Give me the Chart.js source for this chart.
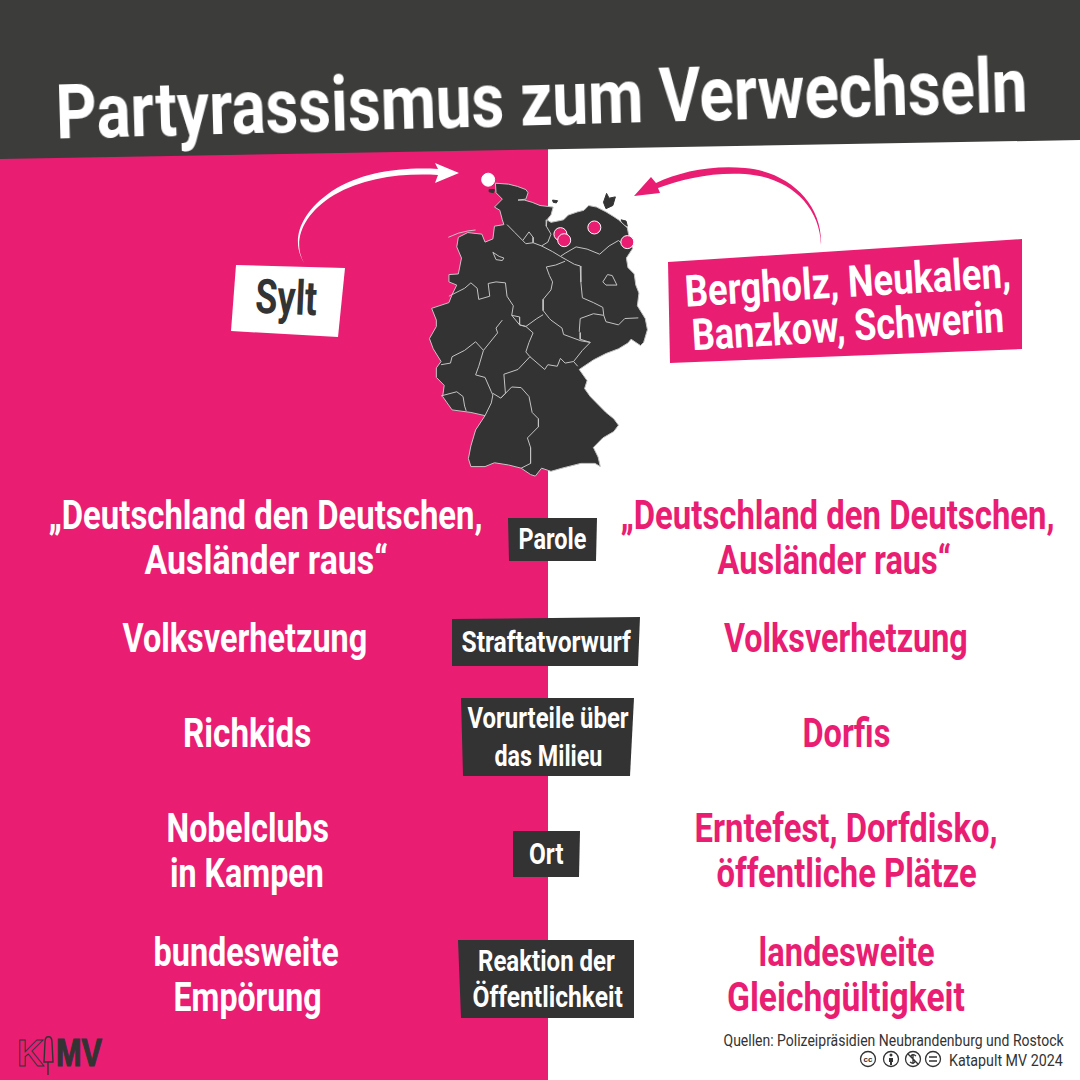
<!DOCTYPE html>
<html lang="de">
<head>
<meta charset="utf-8">
<title>Partyrassismus zum Verwechseln</title>
<script src="https://cdn.jsdelivr.net/npm/chart.js@4"></script>
<style>
  html, body { margin: 0; padding: 0; background: #fff; }
  #page { position: relative; width: 1080px; height: 1080px; overflow: hidden; background: #fff;
          font-family: "Liberation Sans Narrow", "Roboto", sans-serif; }
  #leftHalf { position: absolute; left: 0; top: 0; width: 548px; height: 1080px; background: #e91e73; }
  #mapWrap { position: absolute; left: 410px; top: 155px; width: 260px; height: 335px; }
  .poly { position: absolute; left: 0; top: 0; width: 1080px; height: 1080px; }
  .t { position: absolute; white-space: nowrap; font-weight: 700; line-height: 1; transform-origin: center center; }
</style>
</head>
<body>
<div id="page">
  <div id="leftHalf"></div>
  <svg class="poly" id="shapes" viewBox="0 0 1080 1080">
    <polygon points="0,0 1080,0 1080,140 0,159" fill="#3c3c3b"/>
    <polygon points="236,265 345,268 338,337 231,331" fill="#fff"/>
    <polygon points="668,262 1022,239 1022,349 670,363" fill="#e91e73"/>
    <polygon points="508,518 597,518 596,561 509,561" fill="#333"/>
    <polygon points="452,619 640,617 638,666 452,666" fill="#333"/>
    <polygon points="461,698 634,698 630,776 463,776" fill="#333"/>
    <polygon points="513,831 580,831 579,877 513,877" fill="#333"/>
    <polygon points="458,940 634,940 634,1018 461,1018" fill="#333"/>
    <path d="M304,263 C292,243 296,216 332,191 C362,172 400,167 438,169 L435,163 L459,173 L435,183 L438,175 C400,173 364,178 334,195 C300,216 293,243 304,263 Z" fill="#fff"/>
    <path d="M821,245 C823,205 790,172 745,168 C710,165 680,172 656,183 L651,177 L634,196 L660,193 L658,188 C682,179 712,172 745,174 C788,177 820,205 821,245 Z" fill="#e91e73"/>
    <!-- logo -->
    <text x="17" y="1066" font-size="37" font-weight="700" fill="none" stroke="#333" stroke-width="1" textLength="27" lengthAdjust="spacingAndGlyphs" font-family="Liberation Sans">K</text>
    <path d="M45,1042 C45,1035 52,1035 52,1042 L53,1062 L44,1062 Z M48,1062 V1075" fill="none" stroke="#333" stroke-width="1.4"/>
    <text x="56" y="1066" font-size="38" font-weight="700" fill="#333" stroke="#333" stroke-width="1.2" textLength="46" lengthAdjust="spacingAndGlyphs" font-family="Liberation Sans">MV</text>
    <!-- cc icons -->
    <g fill="none" stroke="#333" stroke-width="1.3">
      <circle cx="868" cy="1059" r="7.5"/><circle cx="891" cy="1059" r="7.5"/>
      <circle cx="913" cy="1059" r="7.5"/><circle cx="933" cy="1059" r="7.5"/>
      <path d="M908,1054 L918,1064 M913,1054 V1064 M916,1056 C912,1053 909,1056 913,1059 C917,1061 914,1065 910,1062"/>
      <path d="M929,1057 H937 M929,1061 H937"/>
    </g>
    <circle cx="891" cy="1055" r="1.5" fill="#333"/>
    <path d="M889,1058 H893 V1062 H892 V1065 H890 V1062 H889 Z" fill="#333"/>
    <text x="868" y="1062" font-size="8" font-weight="700" fill="#333" text-anchor="middle" font-family="Liberation Sans">cc</text>
  </svg>
  <div id="mapWrap"><canvas id="map" width="260" height="335"></canvas></div>
  <div id="labels"></div>
</div>

<script>
// Karte: alles in Karteneinheiten (1 Einheit = 1/3 Pixel), Ursprung links oben im Kartenfeld
const cities = ['Sylt', 'Schwerin', 'Banzkow', 'Neukalen', 'Bergholz'];
const cityX = [225, 455, 467, 563, 668];
const cityY = [54, 225, 244, 204, 250];
const cityColors = ['#ffffff', '#e91e73', '#e91e73', '#e91e73', '#e91e73'];

const coast = [[248,65],[290,68],[318,75],[345,85],[352,95],[345,115],[320,118],[340,118],[365,125],[390,135],[432,140],
  [425,165],[412,180],[425,188],[465,180],[480,165],[510,155],[530,150],[545,135],[570,140],[600,155],[625,170],[640,180],
  [668,205],[672,225],[685,270],[665,300],[670,330],[690,350],[695,385],[705,410],[700,450],[725,490],[732,525],[720,565],
  [710,575],[680,555],[670,567],[640,585],[600,600],[560,620],[530,640],[515,650],[540,685],[532,710],[550,735],[570,755],
  [600,785],[625,805],[640,825],[625,845],[590,865],[560,895],[575,925],[582,955],[565,945],[520,945],[460,960],[425,970],
  [395,960],[375,985],[360,980],[330,960],[290,950],[245,943],[215,955],[170,955],[162,930],[170,890],[185,840],[215,795],
  [170,785],[110,777],[80,735],[85,700],[60,675],[60,645],[75,625],[50,585],[38,553],[60,515],[60,495],[45,458],[100,440],
  [110,415],[125,385],[100,375],[100,352],[130,350],[140,300],[125,265],[130,235],[160,220],[205,225],[215,250],[240,240],
  [245,200],[275,195],[270,180],[262,150],[245,140],[270,115],[250,95],[248,65]];

// Inseln
const ruegen = [[592,125],[602,97],[610,112],[630,108],[622,135],[600,145],[592,125]];
const usedom = [[648,180],[664,184],[668,200],[654,192],[648,180]];
const fehmarn = [[430,118],[446,120],[442,127],[432,125],[430,118]];
const nordfriesland = [[228,85],[245,85],[242,95],[228,92],[228,85]];
const ostfriesland = [[98,235],[130,222],[160,215],[185,212]];

// Laendergrenzen
const shBorder = [[412,180],[410,200],[425,225],[415,250],[395,262],[368,252],[345,255],[335,245],[310,220],[285,195]];
const hamburg = [[335,245],[355,218],[368,235],[368,252]];
const bremen = [[240,282],[260,295],[275,300],[270,308],[250,305],[240,282]];
const berlin = [[590,375],[605,352],[620,355],[635,385],[600,385],[590,375]];
const mvBorder = [[395,262],[430,280],[455,295],[470,285],[505,265],[540,272],[580,288],[610,262],[640,245],[668,270]];
const bbWest = [[455,295],[500,320],[518,325],[520,375],[525,425],[560,440],[590,455],[593,480],[560,475],[518,490],[515,530],[518,535]];
const bbSouth = [[593,480],[600,500],[640,510],[660,490],[703,488]];
const stWest = [[470,310],[440,322],[410,328],[420,355],[430,375],[425,400],[400,430],[400,465],[420,490],[425,495],[460,520],[465,540],[520,560],[550,565],[525,590],[497,625],[510,640]];
const stEast = [[518,535],[518,555],[550,565]];
const nrwNorth = [[100,420],[150,395],[170,378],[190,395],[195,430],[230,420],[225,380],[250,375],[280,378],[285,420],[305,450],[300,480],[325,485],[325,510]];
const nrwSouth = [[270,495],[250,520],[255,535],[210,590],[185,563],[150,590],[110,610],[105,630],[75,635]];
const niTh = [[300,480],[325,510],[345,515],[380,490],[400,478]];
const heEast = [[325,510],[345,515],[368,535],[355,565],[345,595],[358,610]];
const heSouth = [[358,610],[320,650],[275,665],[280,725],[265,740],[240,725]];
const heWest = [[210,590],[195,640],[185,667],[215,675],[235,720],[240,730],[235,755],[215,795]];
const saarland = [[75,733],[125,720],[145,735],[150,765],[155,780]];
const bwEast = [[265,740],[300,705],[330,707],[355,735],[365,785],[385,805],[385,830],[350,865],[360,895],[360,945],[330,960]];
const thSouth = [[358,610],[405,650],[415,635],[445,640],[455,615],[470,630],[497,625]];
const borders = [shBorder, hamburg, bremen, berlin, mvBorder, bbWest, bbSouth, stWest, stEast, nrwNorth, nrwSouth, niTh, heEast, heSouth, heWest, saarland, bwEast, thSouth, ostfriesland];
const islands = [ruegen, usedom, fehmarn, nordfriesland];

const pts = list => list.map(p => ({ x: p[0], y: p[1] }));
const mapDark = '#333333';
const edge = '#c4c4c4';

new Chart(document.getElementById('map'), {
    type: 'scatter',
    data: {
        datasets: [
            ...islands.map(i => ({ data: pts(i), showLine: true, fill: 'shape', tension: 0, pointRadius: 0, backgroundColor: mapDark, borderColor: mapDark, borderWidth: 1, order: 5 })),
            { data: pts(coast), showLine: true, fill: 'shape', tension: 0, pointRadius: 0, backgroundColor: mapDark, borderColor: edge, borderWidth: 1, order: 4 },
            ...borders.map(b => ({ data: pts(b), showLine: true, fill: false, tension: 0, pointRadius: 0, borderColor: edge, borderWidth: 1, order: 3 })),
            {
                label: 'Orte',
                data: cityX.map((x, i) => ({ x, y: cityY[i] })),
                backgroundColor: cityColors,
                borderColor: '#ffffff',
                borderWidth: 1,
                pointRadius: 6.5,
                order: 1
            }
        ]
    },
    options: {
        responsive: false,
        animation: false,
        layout: { padding: 0 },
        plugins: { legend: { display: false }, tooltip: { enabled: false } },
        scales: {
            x: { type: 'linear', min: 0, max: 780, display: false },
            y: { type: 'linear', min: 0, max: 1005, reverse: true, display: false }
        }
    }
});

// Texte: [Text, Mitte x, Mitte y, Zielbreite, Schriftgroesse, Farbe, Drehung]
const pink = '#e91e73', white = '#ffffff', dark = '#333333';
const labels = [
    ['Partyrassismus zum Verwechseln', 541, 99, 972, 76, white, -1.6],
    ['Sylt', 286, 298, 62, 48, dark, 2.5],
    ['Bergholz, Neukalen,', 847, 282, 326, 44, white, -3.4],
    ['Banzkow, Schwerin', 848, 326, 313, 44, white, -3.4],
    ['„Deutschland den Deutschen,', 265, 515, 434, 41, white, 0],
    ['Ausländer raus“', 266, 560, 243, 41, white, 0],
    ['„Deutschland den Deutschen,', 837, 515, 434, 41, pink, 0],
    ['Ausländer raus“', 834, 560, 233, 41, pink, 0],
    ['Volksverhetzung', 245, 638, 245, 41, white, 0],
    ['Volksverhetzung', 846, 638, 244, 41, pink, 0],
    ['Richkids', 247, 733, 128, 41, white, 0],
    ['Dorfis', 846, 733, 88, 41, pink, 0],
    ['Nobelclubs', 247, 828, 162, 41, white, 0],
    ['in Kampen', 247, 873, 154, 41, white, 0],
    ['Erntefest, Dorfdisko,', 846, 828, 303, 41, pink, 0],
    ['öffentliche Plätze', 846, 873, 260, 41, pink, 0],
    ['bundesweite', 246, 952, 185, 41, white, 0],
    ['Empörung', 247, 997, 148, 41, white, 0],
    ['landesweite', 846, 952, 176, 41, pink, 0],
    ['Gleichgültigkeit', 846, 997, 238, 41, pink, 0],
    ['Parole', 552, 539, 68, 30, white, 0],
    ['Straftatvorwurf', 546, 642, 169, 30, white, 0],
    ['Vorurteile über', 548, 718, 161, 30, white, 0],
    ['das Milieu', 548, 756, 108, 30, white, 0],
    ['Ort', 546, 854, 35, 30, white, 0],
    ['Reaktion der', 546, 961, 137, 30, white, 0],
    ['Öffentlichkeit', 547, 997, 150, 30, white, 0],
    ['Quellen: Polizeipräsidien Neubrandenburg und Rostock', 893, 1040, 340, 17, dark, 0],
    ['Katapult MV 2024', 1006, 1060, 114, 17, dark, 0]
];

const box = document.getElementById('labels');
labels.forEach(l => {
    const el = document.createElement('div');
    el.className = 't';
    el.textContent = l[0];
    el.style.fontSize = l[4] + 'px';
    el.style.color = l[5];
    if (l[4] === 17) el.style.fontWeight = 400;
    box.appendChild(el);
    const w = el.offsetWidth, h = el.offsetHeight;
    el.style.left = (l[1] - w / 2) + 'px';
    el.style.top = (l[2] - h / 2) + 'px';
    el.style.transform = `rotate(${l[6]}deg) scaleX(${l[3] / w})`;
});
</script>
</body>
</html>
